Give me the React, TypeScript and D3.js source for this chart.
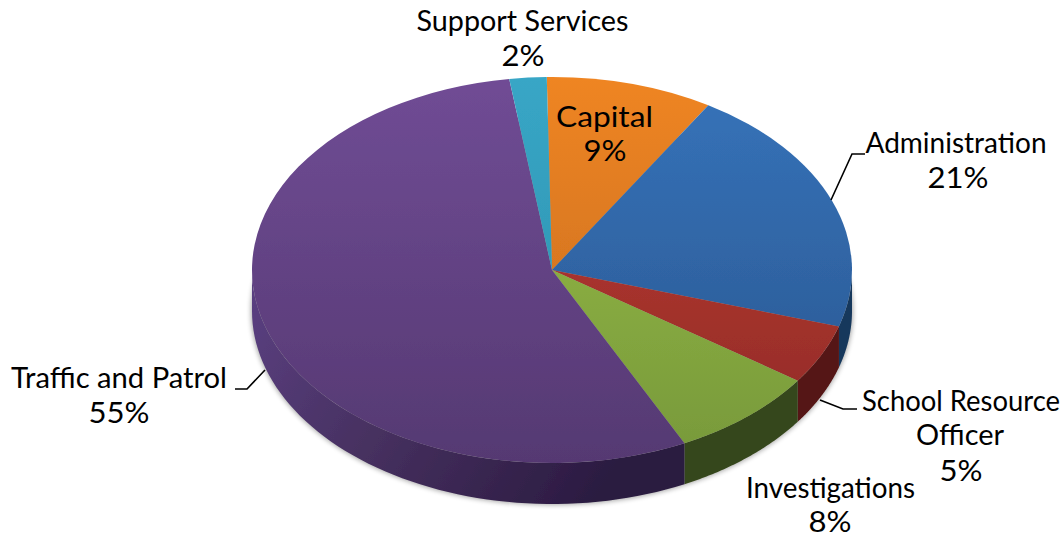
import * as d3 from "d3";

const categories = ["Capital", "Administration", "School Resource Officer", "Investigations", "Traffic and Patrol", "Support Services"];
const shares = [9, 21, 5, 8, 55, 2];

// [top of gradient, bottom of gradient] for the lit face of each slice
const faceColors = [
  ["#ef8522", "#c26a1d"],
  ["#3673ba", "#29568e"],
  ["#c23c36", "#8e2a25"],
  ["#9bbf49", "#77993a"],
  ["#704c95", "#553972"],
  ["#38a6c6", "#2b8eaa"],
];
const wallColors = ["#a0591a", "#15375c", "#541312", "#35461a", "#4b3469", "#1f6a80"];

const width = 1064;
const height = 533;
const cx = 552;
const cy = 270;
const rx = 300;
const ry = 193;
const depth = 41;
const startAngle = (-1 * Math.PI) / 180;

const slices = d3
  .pie<number>()
  .sort(null)
  .startAngle(startAngle)
  .endAngle(startAngle + 2 * Math.PI)(shares);

// face of the pie: a circular arc squashed by the group's transform
const faceArc = d3.arc<d3.PieArcDatum<number>>().innerRadius(0).outerRadius(rx);

const rimPoint = (a: number, drop: number): [number, number] => [
  cx + rx * Math.sin(a),
  cy - ry * Math.cos(a) + drop,
];
const line = d3.line();

// side wall of a slice, only the front half of the pie can be seen
function wallPath(a0: number, a1: number) {
  const from = Math.max(a0, Math.PI / 2);
  const to = Math.min(a1, (3 * Math.PI) / 2);
  if (to <= from) return null;
  const steps = d3.range(0, 61).map((i) => from + ((to - from) * i) / 60);
  const top = steps.map((a) => rimPoint(a, 0));
  const bottom = steps.slice().reverse().map((a) => rimPoint(a, depth));
  return line([...top, ...bottom]) + "Z";
}

// label lines: text, centre x, baseline y, fitted width
const labelLines: [string, number, number, number][] = [
  ["Support Services", 522.5, 31, 212],
  ["2%", 523, 66, 43],
  ["Capital", 604.5, 127, 97],
  ["9%", 605, 161, 43],
  ["Administration", 956, 153, 181],
  ["21%", 958, 188, 61],
  ["School Resource", 961, 411, 198],
  ["Officer", 960, 445, 88],
  ["5%", 961, 481, 43],
  ["Investigations", 830.5, 498, 169],
  ["8%", 830, 532, 43],
  ["Traffic and Patrol", 119, 388, 216],
  ["55%", 119, 423, 61],
];

const leaders: [number, number][][] = [
  [[831, 200], [852, 154], [865, 154]],
  [[820, 400], [843, 409], [857, 409]],
  [[265, 370], [247, 389], [235, 389]],
];

export default function App() {
  return (
    <svg
      width={width}
      height={height}
      style={{ position: "absolute", left: 0, top: 0, display: "block" }}
    >
      <title>{categories.join(", ")}</title>
      <defs>
        {faceColors.map((c, i) => (
          <linearGradient
            key={i}
            id={`face${i}`}
            gradientUnits="userSpaceOnUse"
            x1={0}
            y1={-rx}
            x2={0}
            y2={rx}
          >
            <stop offset="0%" stopColor={c[0]} />
            <stop offset="100%" stopColor={c[1]} />
          </linearGradient>
        ))}
        <linearGradient id="purpleWall" gradientUnits="userSpaceOnUse" x1={255} y1={290} x2={600} y2={505}>
          <stop offset="0%" stopColor="#5a3f80" />
          <stop offset="45%" stopColor="#46305f" />
          <stop offset="100%" stopColor="#2a1a40" />
        </linearGradient>
        <filter id="soft" x="-5%" y="-5%" width="110%" height="110%">
          <feGaussianBlur stdDeviation="0.7" />
        </filter>
        <filter id="shade" x="-5%" y="-5%" width="110%" height="115%">
          <feGaussianBlur stdDeviation="2.5" />
        </filter>
      </defs>

      {/* soft shadow round the body */}
      <ellipse cx={cx} cy={cy + depth} rx={rx + 1} ry={ry + 1} fill="#000" opacity={0.35} filter="url(#shade)" />

      <g filter="url(#soft)">
        {slices.map((s, i) => {
          const d = wallPath(s.startAngle, s.endAngle);
          return d ? (
            <path key={i} d={d} fill={i === 4 ? "url(#purpleWall)" : wallColors[i]} />
          ) : null;
        })}
        <g transform={`translate(${cx},${cy}) scale(1,${ry / rx})`}>
          {slices.map((s, i) => (
            <path key={i} d={faceArc(s) ?? ""} fill={`url(#face${i})`} />
          ))}
        </g>
      </g>

      {leaders.map((pts, i) => (
        <path key={i} d={line(pts) ?? ""} fill="none" stroke="#000" strokeWidth={1.6} />
      ))}

      <g fontFamily="Lato, 'Noto Sans', sans-serif" fontSize={29} fill="#000" textAnchor="middle">
        {labelLines.map(([t, x, y, w]) => (
          <text key={t} x={x} y={y} textLength={w} lengthAdjust="spacingAndGlyphs">
            {t}
          </text>
        ))}
      </g>
    </svg>
  );
}
